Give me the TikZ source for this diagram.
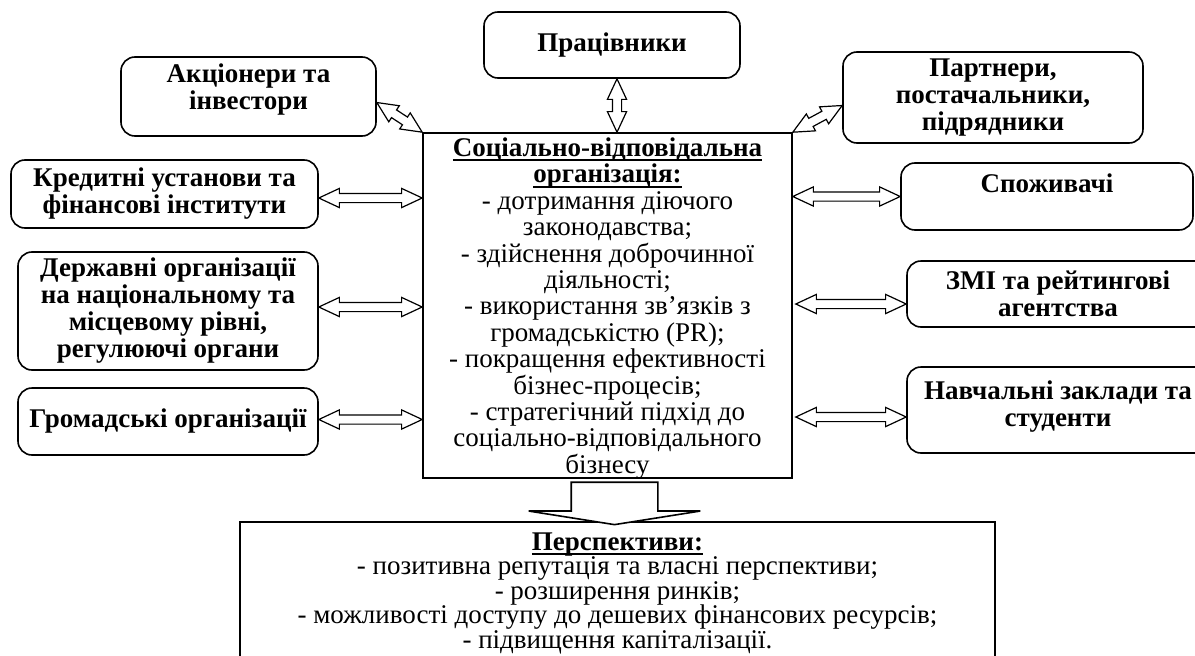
\documentclass[tikz,border=0pt]{standalone}
\usepackage{fontspec}
\setmainfont{Liberation Serif}
\usetikzlibrary{calc,shapes.arrows}
\newcommand{\ulined}[1]{\leavevmode\setbox0\hbox{#1}\rlap{\vrule height -3pt depth 5pt width \wd0}\box0}

\begin{document}
\begin{tikzpicture}
  [x=1pt,y=-1pt,
   stake/.style={draw,rounded corners=14pt,line width=1.6pt,align=center,inner sep=2pt,
     font=\fontsize{27}{27}\selectfont\bfseries},
   plainbox/.style={draw,line width=1.6pt,align=center,inner sep=2pt},
   dblarr/.style={double arrow,draw,fill=white,line width=1.2pt,inner xsep=0pt,inner ysep=4pt,
     minimum width=0pt,double arrow head extend=5pt,double arrow tip angle=50},
   downarr/.style={single arrow,draw,fill=white,line width=1.6pt,inner xsep=0pt,inner ysep=42.5pt,
     minimum width=0pt,single arrow head extend=42.5pt,single arrow tip angle=162}]
  \useasboundingbox (0,0) rectangle (1195,656);

  \node[plainbox,minimum width=369pt,minimum height=345pt,text depth=-4pt,font=\fontsize{27}{26.4}\selectfont] (org) at (607.5,305.5)
    {\textbf{\ulined{Соціально-відповідальна}}\\\textbf{\ulined{організація:}}\\- дотримання діючого\\законодавства;\\- здійснення доброчинної\\діяльності;\\- використання зв’язків з\\громадськістю (PR);\\- покращення ефективності\\бізнес-процесів;\\- стратегічний підхід до\\соціально-відповідального\\бізнесу};

  \node[stake,minimum width=256pt,minimum height=66pt] (prac) at (612,45) {Працівники};
  \node[stake,minimum width=255pt,minimum height=79pt,text depth=19pt] (akc) at (248.5,96.5) {Акціонери та\\інвестори};
  \node[stake,minimum width=300pt,minimum height=91pt] (part) at (993,97.5) {Партнери,\\постачальники,\\підрядники};
  \node[stake,minimum width=307pt,minimum height=68pt] (kred) at (164.5,194) {Кредитні установи та\\фінансові інститути};
  \node[stake,minimum width=300pt,minimum height=118pt] (derzh) at (168,311) {Державні організації\\на національному та\\місцевому рівні,\\регулюючі органи};
  \node[stake,minimum width=300pt,minimum height=67pt] (grom) at (168,421.5) {Громадські організації};
  \node[stake,minimum width=292pt,minimum height=67pt,text depth=27pt] (spoz) at (1047,196.5) {Споживачі};
  \node[stake,minimum width=302pt,minimum height=66pt,text depth=-22pt] (zmi) at (1058,294) {ЗМІ та рейтингові\\агентства};
  \node[stake,minimum width=302pt,minimum height=86pt,text depth=12pt] (nav) at (1058,410) {Навчальні заклади та\\студенти};

  \node[plainbox,minimum width=755pt,minimum height=142pt,font=\fontsize{27}{24.5}\selectfont] (persp) at (617.5,593)
    {\textbf{\ulined{Перспективи:}}\\- позитивна репутація та власні перспективи;\\- розширення ринків;\\- можливості доступу до дешевих фінансових ресурсів;\\- підвищення капіталізації.};

  \coordinate (a1) at ([yshift=-6pt]akc.east);
  \coordinate (a2) at ([xshift=5pt]prac.south);
  \coordinate (a2o) at (a2 |- org.north);
  \coordinate (a3) at ([yshift=-8pt]part.west);
  \coordinate (a4) at ([yshift=-4pt]kred.east);
  \coordinate (a4o) at (a4 -| org.west);
  \coordinate (a5) at ([yshift=4pt]derzh.east);
  \coordinate (a5o) at (a5 -| org.west);
  \coordinate (a6) at ([yshift=2pt]grom.east);
  \coordinate (a6o) at (a6 -| org.west);
  \coordinate (b1) at (spoz.west);
  \coordinate (b1o) at (b1 -| org.east);
  \coordinate (b2) at ([yshift=-10pt]zmi.west);
  \coordinate (b2o) at ([xshift=3pt]b2 -| org.east);
  \coordinate (b3) at ([yshift=-7pt]nav.west);
  \coordinate (b3o) at ([xshift=3pt]b3 -| org.east);

  \foreach \from/\to in {a1/org.north west,a2/a2o,a3/org.north east,a4/a4o,a5/a5o,a6/a6o,b1o/b1,b2o/b2,b3o/b3}
    \path let \p1=($(\to)-(\from)$), \n1={veclen(\x1,\y1)}, \n2={atan2(\y1,\x1)} in
      node[dblarr,minimum height=\n1,rotate=\n2] at ($(\from)!0.5!(\to)$) {};

  % Стрілка вниз до перспектив
  \coordinate (c1) at ([xshift=7pt]org.south);
  \coordinate (c2) at (c1 |- persp.north);
  \path let \p1=($(c2)-(c1)$), \n1={veclen(\x1,\y1)} in
    node[downarr,minimum height=\n1,rotate=-90] at ($(c1)!0.5!(c2)$) {};

\end{tikzpicture}
\end{document}
